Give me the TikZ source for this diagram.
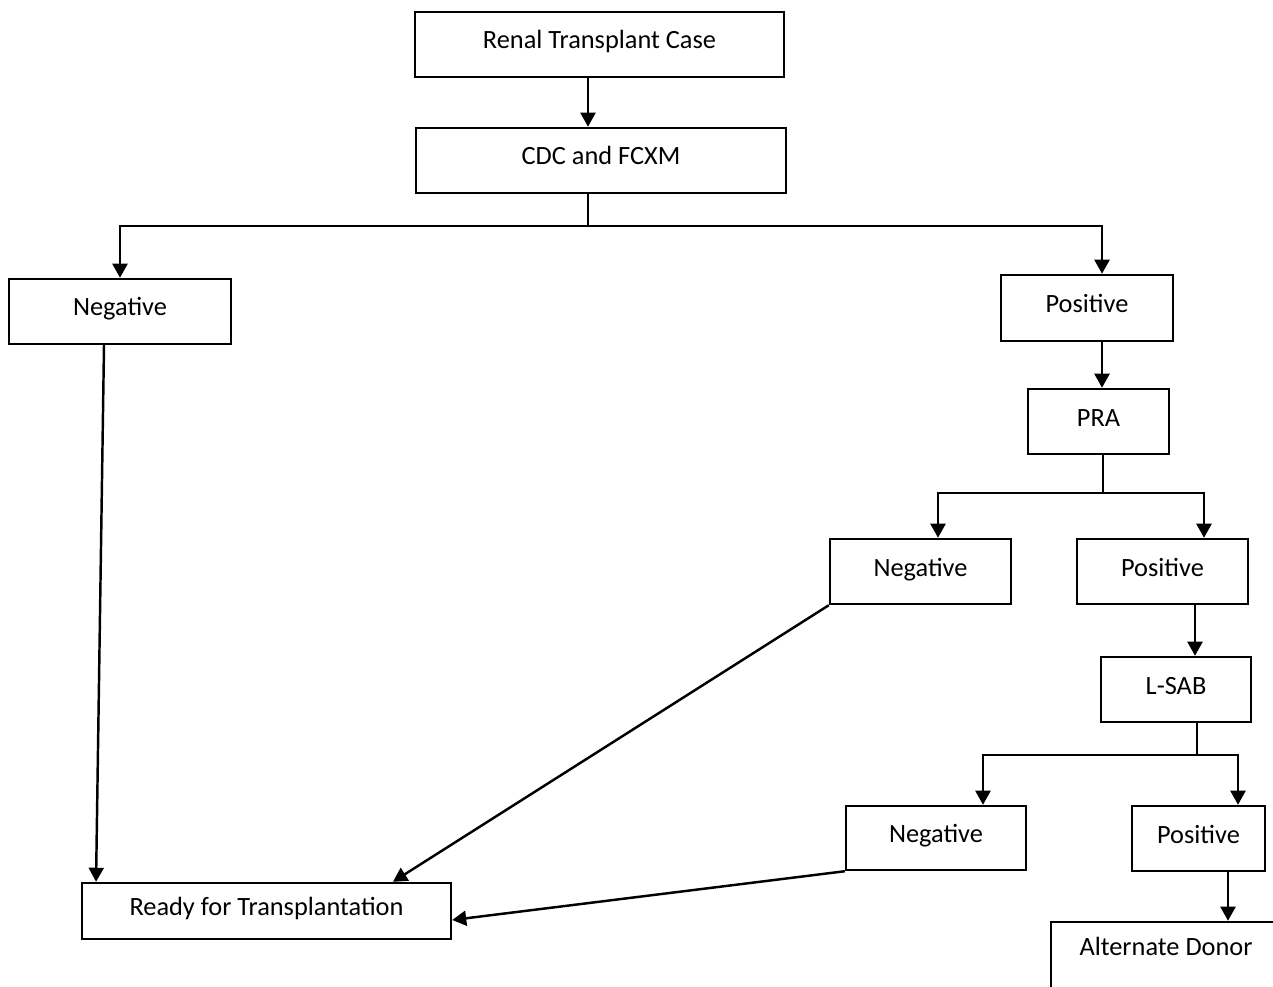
\documentclass[tikz,border=0pt]{standalone}
\usepackage{fontspec}
\setmainfont{Carlito}
\usepackage{tikz}
\usetikzlibrary{arrows.meta}

\begin{document}
\begin{tikzpicture}[x=0.02cm, y=-0.02cm, every node/.style={font=\fontsize{15}{18}\selectfont},
      box/.style={draw=black, line width=1.4pt, minimum height=1.3cm, inner sep=0pt, align=center,
        text height=0.36cm, text depth=0.18cm},
      link/.style={line width=1.4pt, -{Triangle[width=8.5pt, length=8pt]}}]
    \useasboundingbox (0,0) rectangle (1273,986);
    \clip (0,0) rectangle (1273,986);
    \node[box, minimum width=7.38cm] (case) at (599.5,44.5) {Renal Transplant Case};
    \node[box, minimum width=7.4cm] (cdc) at (601,160.5) {CDC and FCXM};
    \node[box, minimum width=4.44cm] (neg) at (120,311.5) {Negative};
    \node[box, minimum width=3.44cm, minimum height=1.32cm] (pos) at (1087,308) {Positive};
    \node[box, minimum width=2.82cm] (pra) at (1098.5,421.5) {PRA};
    \node[box, minimum width=3.62cm] (praneg) at (920.5,571.5) {Negative};
    \node[box, minimum width=3.42cm] (prapos) at (1162.5,571.5) {Positive};
    \node[box, minimum width=3.0cm] (lsab) at (1176,689.5) {L-SAB};
    \node[box, minimum width=3.6cm, minimum height=1.28cm] (lsabneg) at (936,838) {Negative};
    \node[box, minimum width=2.66cm] (lsabpos) at (1198.5,838.5) {Positive};
    \node[box, minimum width=7.38cm, minimum height=1.12cm] (ready) at (266.5,911) {Ready for Transplantation};
    \node[box, minimum width=4.6cm, minimum height=1.6cm, text height=0.35cm, text depth=0.6cm] (alt) at (1166,962) {Alternate Donor};
    % crossmatch
    \draw[link] ([xshift=-0.23cm]case.south) -- ([xshift=-0.23cm]case.south |- cdc.north);
    \draw[link] ([xshift=-0.26cm]cdc.south) -- ++(0,32) -| (neg.north);
    \draw[link] ([xshift=-0.26cm]cdc.south) -- ++(0,32) -| ([xshift=0.3cm]pos.north);
    % PRA
    \draw[link] ([xshift=0.3cm]pos.south) -- ([xshift=0.3cm]pos.south |- pra.north);
    \draw[link] ([xshift=0.09cm]pra.south) -- ++(0,38) -| ([xshift=0.35cm]praneg.north);
    \draw[link] ([xshift=0.09cm]pra.south) -- ++(0,38) -| ([xshift=0.83cm]prapos.north);
    % L-SAB
    \draw[link] ([xshift=0.65cm]prapos.south) -- ([xshift=0.65cm]prapos.south |- lsab.north);
    \draw[link] ([xshift=0.42cm]lsab.south) -- ++(0,32) -| ([xshift=0.94cm]lsabneg.north);
    \draw[link] ([xshift=0.42cm]lsab.south) -- ++(0,32) -| ([xshift=0.79cm]lsabpos.north);
    \draw[link] ([xshift=0.59cm]lsabpos.south) -- ([xshift=0.59cm]lsabpos.south |- alt.north);
    % negatives
    \draw[link] ([xshift=-0.32cm]neg.south) -- ([xshift=-3.41cm]ready.north);
    \draw[link] (praneg.south west) -- ([xshift=2.53cm]ready.north);
    \draw[link] (lsabneg.south west) -- ([yshift=-0.18cm]ready.east);
  \end{tikzpicture}
\end{document}
